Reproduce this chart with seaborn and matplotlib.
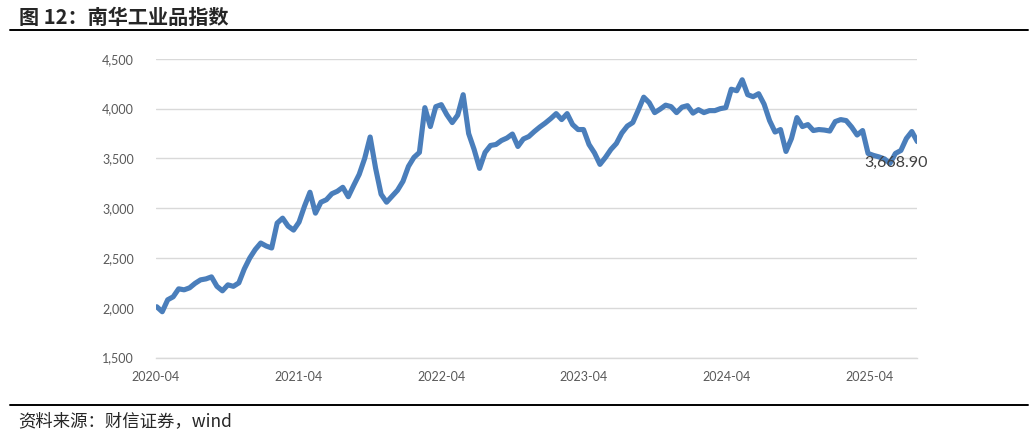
import matplotlib
matplotlib.use("Agg")
import matplotlib.pyplot as plt
import matplotlib.dates as mdates
import matplotlib.ticker as mticker
import seaborn as sns
import pandas as pd

# 南华工业品指数, biweekly readings from 2020-04 to 2025-07
start_date = "2020-04-03"
index_values = [
    2010, 1960, 2080, 2110, 2190, 2180, 2200, 2245, 2280, 2290,
    2310, 2215, 2170, 2230, 2215, 2250, 2390, 2500, 2585, 2650,
    2620, 2600, 2850, 2900, 2820, 2780, 2860, 3020, 3160, 2950,
    3060, 3085, 3145, 3170, 3210, 3115, 3230, 3340, 3500, 3715,
    3400, 3140, 3060, 3120, 3180, 3270, 3420, 3510, 3560, 4010,
    3820, 4020, 4040, 3940, 3860, 3935, 4140, 3750, 3590, 3400,
    3560, 3630, 3640, 3680, 3705, 3745, 3620, 3695, 3720, 3770,
    3815, 3855, 3900, 3950, 3890, 3950, 3840, 3790, 3790, 3640,
    3555, 3440, 3510, 3590, 3650, 3755, 3825, 3860, 3985, 4115,
    4060, 3960, 3995, 4035, 4020, 3960, 4015, 4030, 3955, 3990,
    3960, 3980, 3980, 4000, 4010, 4195, 4180, 4290, 4140, 4120,
    4150, 4045, 3880, 3765, 3790, 3570, 3700, 3910, 3820, 3840,
    3780, 3790, 3785, 3775, 3870, 3890, 3880, 3815, 3735, 3780,
    3550, 3530, 3515, 3495, 3450, 3550, 3580, 3700, 3770, 3668.90,
]
y_ticks = [1500, 2000, 2500, 3000, 3500, 4000, 4500]
title_text = "图 12：南华工业品指数"
source_text = "资料来源：财信证券，wind"

dates = pd.date_range(start_date, periods=len(index_values), freq="14D")
df = pd.DataFrame({"date": dates, "value": index_values})

sns.set_style("white")
plt.rcParams["font.family"] = ["Lato", "DejaVu Sans"]

fig = plt.figure(figsize=(10.33, 4.36), dpi=100)
ax = fig.add_axes([0.151, 0.180, 0.737, 0.685])

sns.lineplot(data=df, x="date", y="value", ax=ax, color="#4a7ebb", linewidth=3.7)

ax.set_ylim(1500, 4500)
ax.set_xlim(pd.Timestamp("2020-04-01"), df["date"].iloc[-1])
ax.set_yticks(y_ticks)
ax.yaxis.set_major_formatter(mticker.FuncFormatter(lambda v, p: f"{int(v):,}"))
ax.xaxis.set_major_locator(mdates.YearLocator(month=4, day=1))
ax.xaxis.set_major_formatter(mdates.DateFormatter("%Y-%m"))
ax.grid(axis="y", color="#d9d9d9", linewidth=1)
ax.set_axisbelow(True)
ax.set_xlabel("")
ax.set_ylabel("")

for s in ["top", "right", "left"]:
    ax.spines[s].set_visible(False)
ax.spines["bottom"].set_color("#d9d9d9")
ax.spines["bottom"].set_linewidth(1)
ax.tick_params(axis="x", colors="#595959", labelsize=9, length=4, width=1,
               direction="out", pad=6)
ax.tick_params(axis="x", color="#d9d9d9")
ax.tick_params(axis="y", colors="#595959", labelsize=9, length=0, pad=16)

# last value label
last = df.iloc[-1]
ax.annotate(f"{last['value']:,.2f}", xy=(last["date"], last["value"]),
            xytext=(-15, -15), textcoords="offset points",
            ha="center", va="center", fontsize=11.5, color="#404040")

# title, rules and source
cjk = ["Noto Sans CJK SC", "DejaVu Sans"]
fig.text(0.018, 0.961, title_text, ha="left", va="center", fontsize=14.5,
         fontweight="bold", family=cjk)
fig.add_artist(plt.Line2D([0.01, 0.995], [0.931, 0.931], color="black", linewidth=1.4))
fig.add_artist(plt.Line2D([0.01, 0.995], [0.071, 0.071], color="black", linewidth=1.4))
fig.text(0.018, 0.034, source_text, ha="left", va="center", fontsize=12.5,
         style="italic", family=cjk)

fig.savefig("out.png", dpi=100)
